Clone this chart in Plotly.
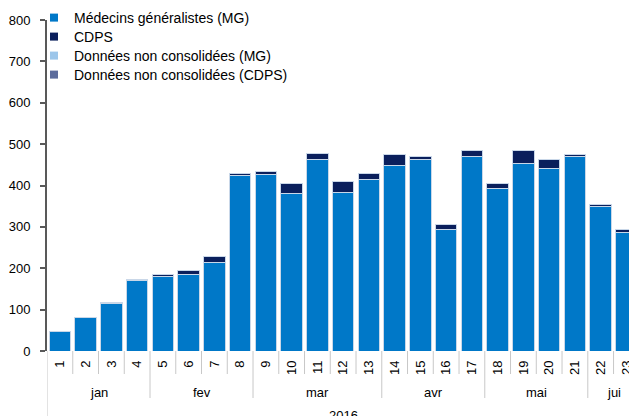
import plotly.graph_objects as go

# ---- data ----
weeks = ["1", "2", "3", "4", "5", "6", "7", "8", "9", "10", "11", "12",
         "13", "14", "15", "16", "17", "18", "19", "20", "21", "22", "23"]
mg_values = [48, 80, 114, 170, 179, 186, 214, 424, 427, 380, 463, 384,
             415, 448, 462, 293, 471, 392, 453, 441, 469, 350, 286]
cdps_values = [0, 1, 3, 4, 6, 9, 15, 4, 6, 26, 14, 25,
               15, 27, 8, 12, 14, 14, 32, 23, 7, 5, 7]
months = ["jan", "fev", "mar", "avr", "mai", "jui"]
month_week_counts = [4, 4, 5, 4, 4, 2]
year_label = "2016"
y_ticks = [0, 100, 200, 300, 400, 500, 600, 700, 800]
series_names = ["Médecins généralistes (MG)", "CDPS",
                "Données non consolidées (MG)", "Données non consolidées (CDPS)"]

FONT = "Liberation Sans, Arial, sans-serif"
MG_COLOR = "#0078C8"
CDPS_COLOR = "#0A1F5C"
NC_MG_COLOR = "#9CC6EA"
NC_CDPS_COLOR = "#5C6C9C"
EDGE = "#C9D7E8"
SEP = "#C8C8C8"

W, HT = 629, 416
ML, MT, MB = 47, 20, 65
H = HT - MT - MB  # plot height in px

xs = list(range(len(weeks)))

fig = go.Figure()
fig.add_trace(go.Bar(x=xs, y=mg_values, name=series_names[0], showlegend=False,
                     marker=dict(color=MG_COLOR, line=dict(color=EDGE, width=1))))
fig.add_trace(go.Bar(x=xs, y=cdps_values, name=series_names[1], showlegend=False,
                     marker=dict(color=CDPS_COLOR, line=dict(color=EDGE, width=1))))
# legend entries (small square keys, as in the reference)
for i, (nm, col) in enumerate(zip(series_names, [MG_COLOR, CDPS_COLOR, NC_MG_COLOR, NC_CDPS_COLOR])):
    fig.add_trace(go.Scatter(x=[None], y=[None], mode="markers", name=nm,
                             legend="legend" if i == 0 else f"legend{i + 1}",
                             marker=dict(symbol="square", size=8, color=col,
                                         line=dict(width=0))))


def py(px):
    return -px / H

shapes = []
for i in range(1, len(weeks)):
    shapes.append(dict(type="line", xref="x", yref="paper", x0=i - 0.5, x1=i - 0.5,
                       y0=0, y1=py(23), line=dict(color=SEP, width=1)))
annotations = []
start = 0
for m, n in zip(months, month_week_counts):
    end = start + n
    if end < len(weeks):
        shapes.append(dict(type="line", xref="x", yref="paper", x0=end - 0.5, x1=end - 0.5,
                           y0=py(23), y1=py(47), line=dict(color=SEP, width=1)))
    annotations.append(dict(x=(start + end - 1) / 2, y=py(41), xref="x", yref="paper",
                            text=m, showarrow=False, font=dict(size=13, color="#000", family=FONT),
                            xanchor="center", yanchor="middle"))
    start = end
shapes.append(dict(type="line", xref="x", yref="paper", x0=-0.5, x1=-0.5,
                   y0=0, y1=py(70), line=dict(color=SEP, width=1)))
annotations.append(dict(x=(len(weeks) - 1) / 2, y=py(64), xref="x", yref="paper",
                        text=year_label, showarrow=False, font=dict(size=13, color="#000", family=FONT),
                        xanchor="center", yanchor="middle"))


def leg(row_center_y):
    return dict(xref="container", yref="container", x=34 / W, y=1 - row_center_y / HT,
                xanchor="left", yanchor="middle", bgcolor="rgba(0,0,0,0)",
                font=dict(size=14, family=FONT, color="#000"))

fig.update_layout(
    width=W, height=HT,
    margin=dict(l=ML, r=0, t=MT, b=MB, autoexpand=False),
    paper_bgcolor="white", plot_bgcolor="white",
    barmode="stack", bargap=0.17,
    font=dict(family=FONT, size=13, color="#000"),
    showlegend=True,
    legend=leg(18), legend2=leg(37), legend3=leg(56), legend4=leg(75),
    shapes=shapes, annotations=annotations,
)
fig.update_xaxes(range=[-0.5, 22.1], tickmode="array", tickvals=xs, ticktext=weeks,
                 tickangle=-90, ticks="", showgrid=False, zeroline=False, showline=False,
                 ticklabeloverflow="allow", ticklabelstandoff=6,
                 tickfont=dict(size=13, color="#000", family=FONT), fixedrange=True)
fig.update_yaxes(range=[0, 800], tickmode="array", tickvals=y_ticks,
                 ticks="outside", ticklen=5, tickcolor="#595959", tickwidth=1.5,
                 showline=True, linecolor="#595959", linewidth=2,
                 showgrid=False, zeroline=False, ticklabelstandoff=7,
                 tickfont=dict(size=13, color="#000", family=FONT), fixedrange=True)

fig.write_html("out.html", config={"displayModeBar": False},
               post_script="document.body.style.margin='0px';document.body.style.overflow='hidden';")
